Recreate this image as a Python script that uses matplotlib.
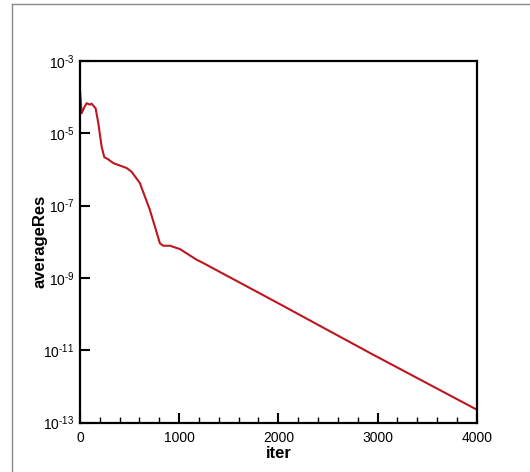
import numpy as np
import matplotlib
matplotlib.use("Agg")
import matplotlib.pyplot as plt
from matplotlib.lines import Line2D
from matplotlib.ticker import MultipleLocator, NullLocator, FixedLocator

plt.rcParams['font.family'] = ['Liberation Sans', 'DejaVu Sans']
plt.rcParams['mathtext.fontset'] = 'custom'
plt.rcParams['mathtext.rm'] = 'Liberation Sans'
plt.rcParams['mathtext.it'] = 'Liberation Sans'
plt.rcParams['mathtext.default'] = 'regular'

# residual history
iters = [0, 17, 40, 67, 100, 117, 158, 185, 218, 245, 286, 336, 470, 520,
         604, 705, 806, 839, 907, 1008, 1176, 1242, 2000, 2922, 4000]
average_res = [1.6e-4, 3.6e-5, 5.0e-5, 6.8e-5, 6.2e-5, 6.6e-5, 4.9e-5, 1.9e-5,
               4.3e-6, 2.2e-6, 1.9e-6, 1.5e-6, 1.1e-6, 8.7e-7, 4.2e-7, 7.6e-8,
               9.1e-9, 7.8e-9, 7.8e-9, 6.3e-9, 3.2e-9, 2.6e-9, 2.0e-10,
               8.5e-12, 2.3e-13]

y_ticks = [1e-13, 1e-11, 1e-9, 1e-7, 1e-5, 1e-3]
y_exponents = ['13', '11', '9', '7', '5', '3']
x_ticks = [0, 1000, 2000, 3000, 4000]

fig = plt.figure(figsize=(5.30, 4.72), dpi=100)
ax = fig.add_axes([0.1509, 0.1045, 0.7485, 0.7663])

ax.plot(iters, average_res, color='#be1620', lw=1.5)

ax.set_yscale('log')
ax.set_xlim(0, 4000)
ax.set_ylim(1e-13, 1e-3)
ax.yaxis.set_major_locator(FixedLocator(y_ticks))
ax.set_yticklabels([r'$10^{\text{-}%s}$' % e for e in y_exponents])
ax.yaxis.set_minor_locator(NullLocator())
ax.set_xticks(x_ticks)
ax.xaxis.set_minor_locator(MultipleLocator(200))

ax.tick_params(which='major', direction='in', length=7, width=1.5,
               labelsize=10)
ax.tick_params(axis='x', which='major', pad=6)
ax.tick_params(axis='y', which='major', pad=4)
ax.tick_params(which='minor', direction='in', length=4, width=1)
for s in ax.spines.values():
    s.set_linewidth(1.6)

ax.set_xlabel('iter', fontsize=12, fontweight='bold', labelpad=1)
ax.set_ylabel('averageRes', fontsize=12, fontweight='bold')
ax.yaxis.set_label_coords(-0.082, 0.5)

# grey frame of the original screenshot
W, H = 530, 472
fig.add_artist(Line2D([12 / W, 1], [1 - 4 / H, 1 - 4 / H], color='#8a8a8a',
                      lw=1, transform=fig.transFigure))
fig.add_artist(Line2D([12 / W, 12 / W], [0, 1 - 4 / H], color='#8a8a8a',
                      lw=1, transform=fig.transFigure))

fig.savefig('out.png', dpi=100)
